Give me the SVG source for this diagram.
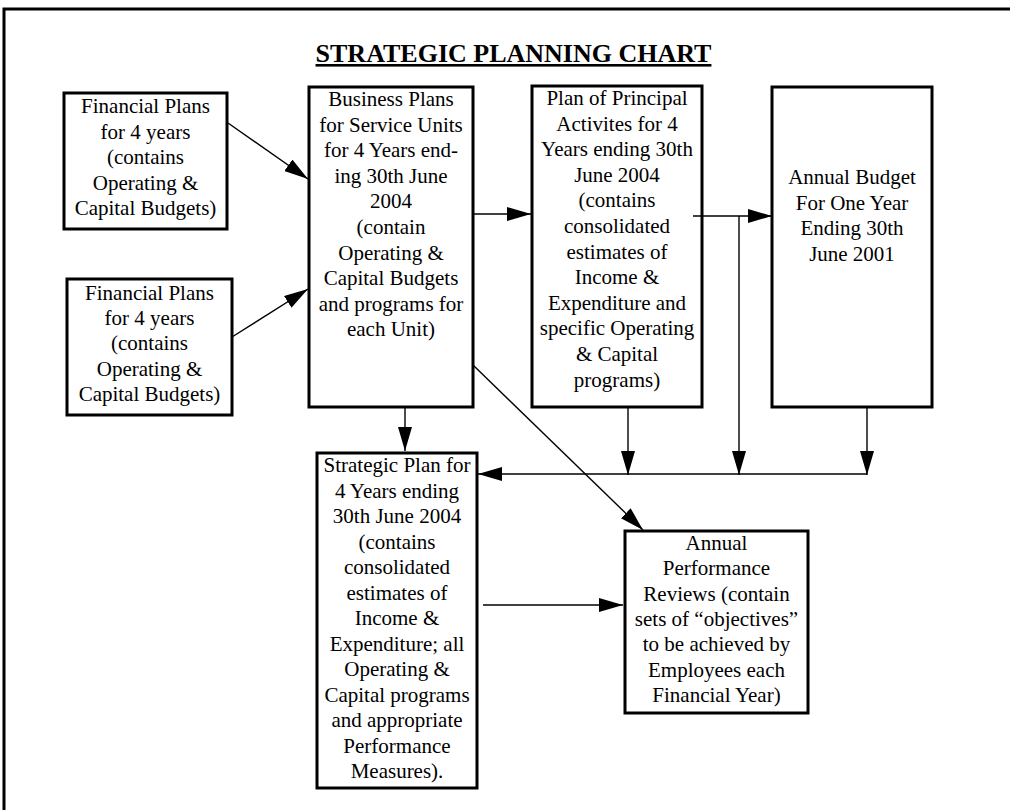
<svg xmlns="http://www.w3.org/2000/svg" width="1010" height="810" viewBox="0 0 1010 810">
<style>
  .box { fill: #ffffff; stroke: #000000; stroke-width: 3; }
  .t { font-family: "Liberation Serif", "Times New Roman", serif; font-size: 21px; fill: #000000; text-anchor: middle; }
  .title { font-family: "Liberation Serif", "Times New Roman", serif; font-size: 26px; font-weight: bold; text-decoration: underline; fill: #000000; text-anchor: middle; }
  .c { fill: none; stroke: #000000; stroke-width: 1.4; }
</style>
<defs>
  <marker id="ah" markerUnits="userSpaceOnUse" markerWidth="25" markerHeight="15" refX="24" refY="7" orient="auto">
    <path d="M0,0 L24,7 L0,14 z" fill="#000000"/>
  </marker>
</defs>
<rect x="0" y="0" width="1010" height="810" fill="#ffffff"/>
<rect x="4" y="9" width="1100" height="900" fill="none" stroke="#000000" stroke-width="3"/>
<text class="title" x="513.5" y="62">STRATEGIC PLANNING CHART</text>

<g id="fp1">
  <rect class="box" x="64" y="93" width="163" height="136"/>
  <text class="t"><tspan x="145.5" y="113">Financial Plans</tspan><tspan x="145.5" y="138.6">for 4 years</tspan><tspan x="145.5" y="164.2">(contains</tspan><tspan x="145.5" y="189.8">Operating &amp;</tspan><tspan x="145.5" y="215.4">Capital Budgets)</tspan></text>
</g>
<g id="fp2">
  <rect class="box" x="67" y="279" width="165" height="136"/>
  <text class="t"><tspan x="149.5" y="300">Financial Plans</tspan><tspan x="149.5" y="325.2">for 4 years</tspan><tspan x="149.5" y="350.4">(contains</tspan><tspan x="149.5" y="375.6">Operating &amp;</tspan><tspan x="149.5" y="400.8">Capital Budgets)</tspan></text>
</g>
<g id="bp">
  <rect class="box" x="309" y="87" width="164" height="320"/>
  <text class="t"><tspan x="391" y="106">Business Plans</tspan><tspan x="391" y="131.6">for Service Units</tspan><tspan x="391" y="157.2">for 4 Years end-</tspan><tspan x="391" y="182.8">ing 30th June</tspan><tspan x="391" y="208.4">2004</tspan><tspan x="391" y="234">(contain</tspan><tspan x="391" y="259.6">Operating &amp;</tspan><tspan x="391" y="285.2">Capital Budgets</tspan><tspan x="391" y="310.8">and programs for</tspan><tspan x="391" y="336.4">each Unit)</tspan></text>
</g>
<g id="ppa">
  <rect class="box" x="532" y="86" width="170" height="321"/>
  <text class="t"><tspan x="617" y="105">Plan of Principal</tspan><tspan x="617" y="130.6">Activites for 4</tspan><tspan x="617" y="156.2">Years ending 30th</tspan><tspan x="617" y="181.8">June 2004</tspan><tspan x="617" y="207.4">(contains</tspan><tspan x="617" y="233">consolidated</tspan><tspan x="617" y="258.6">estimates of</tspan><tspan x="617" y="284.2">Income &amp;</tspan><tspan x="617" y="309.8">Expenditure and</tspan><tspan x="617" y="335.4">specific Operating</tspan><tspan x="617" y="361">&amp; Capital</tspan><tspan x="617" y="386.6">programs)</tspan></text>
</g>
<g id="ab">
  <rect class="box" x="772" y="87" width="160" height="320"/>
  <text class="t"><tspan x="852" y="184">Annual Budget</tspan><tspan x="852" y="209.5">For One Year</tspan><tspan x="852" y="235">Ending 30th</tspan><tspan x="852" y="260.5">June 2001</tspan></text>
</g>
<g id="sp">
  <rect class="box" x="317" y="453" width="160" height="335"/>
  <text class="t"><tspan x="397" y="472">Strategic Plan for</tspan><tspan x="397" y="497.5">4 Years ending</tspan><tspan x="397" y="523">30th June 2004</tspan><tspan x="397" y="548.5">(contains</tspan><tspan x="397" y="574">consolidated</tspan><tspan x="397" y="599.5">estimates of</tspan><tspan x="397" y="625">Income &amp;</tspan><tspan x="397" y="650.5">Expenditure; all</tspan><tspan x="397" y="676">Operating &amp;</tspan><tspan x="397" y="701.5">Capital programs</tspan><tspan x="397" y="727">and appropriate</tspan><tspan x="397" y="752.5">Performance</tspan><tspan x="397" y="778">Measures).</tspan></text>
</g>
<g id="apr">
  <rect class="box" x="625" y="531" width="183" height="182"/>
  <text class="t"><tspan x="716.5" y="550">Annual</tspan><tspan x="716.5" y="575.3">Performance</tspan><tspan x="716.5" y="600.6">Reviews (contain</tspan><tspan x="716.5" y="625.9">sets of “objectives”</tspan><tspan x="716.5" y="651.2">to be achieved by</tspan><tspan x="716.5" y="676.5">Employees each</tspan><tspan x="716.5" y="701.8">Financial Year)</tspan></text>
</g>

<g id="connectors">
  <line class="c" x1="228" y1="123" x2="308" y2="179" marker-end="url(#ah)"/>
  <line class="c" x1="232" y1="337" x2="308" y2="289" marker-end="url(#ah)"/>
  <line class="c" x1="473" y1="214" x2="531" y2="214" marker-end="url(#ah)"/>
  <line class="c" x1="693" y1="216" x2="772" y2="216" marker-end="url(#ah)"/>
  <line class="c" x1="739" y1="216" x2="739" y2="475" marker-end="url(#ah)"/>
  <line class="c" x1="628" y1="408" x2="628" y2="475" marker-end="url(#ah)"/>
  <line class="c" x1="867" y1="408" x2="867" y2="475" marker-end="url(#ah)"/>
  <line class="c" x1="867" y1="474" x2="478" y2="474" marker-end="url(#ah)"/>
  <line class="c" x1="405" y1="408" x2="405" y2="451" marker-end="url(#ah)"/>
  <line class="c" x1="473" y1="365" x2="643" y2="530" marker-end="url(#ah)"/>
  <line class="c" x1="483" y1="605" x2="623" y2="605" marker-end="url(#ah)"/>
</g>
</svg>
